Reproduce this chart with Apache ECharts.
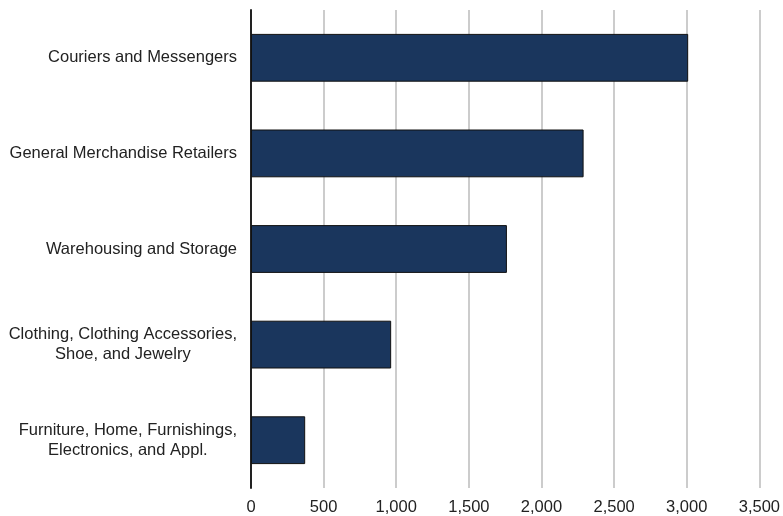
<!DOCTYPE html>
<html>
<head>
<meta charset="utf-8">
<script src="https://cdn.jsdelivr.net/npm/echarts@6/dist/echarts.min.js"></script>
<style>html,body{margin:0;padding:0;background:#fff;}#c{width:783px;height:516px;}</style>
</head>
<body>
<div id="c"></div>
<script>
const categories = [
  "Couriers and Messengers",
  "General Merchandise Retailers",
  "Warehousing and Storage",
  "Clothing, Clothing Accessories,\nShoe, and Jewelry",
  "Furniture, Home, Furnishings,\nElectronics, and Appl."
];
const values = [3010, 2290, 1762, 965, 373];
const xTicks = [0, 500, 1000, 1500, 2000, 2500, 3000, 3500];

const FONT = "'Liberation Sans', Arial, sans-serif";
const chart = echarts.init(document.getElementById('c'), null, {renderer: 'canvas'});
chart.setOption({
  animation: false,
  backgroundColor: '#ffffff',
  grid: {left: 251, right: 20, top: 10, bottom: 28, containLabel: false},
  xAxis: {
    type: 'value',
    min: xTicks[0],
    max: xTicks[xTicks.length - 1],
    interval: 500,
    axisLine: {show: false},
    axisTick: {show: false},
    splitLine: {show: true, lineStyle: {color: '#cccccc', width: 2}},
    axisLabel: {
      color: '#222', fontSize: 16.5, fontFamily: FONT, margin: 11,
      formatter: v => v.toLocaleString('en-US')
    }
  },
  yAxis: {
    type: 'category',
    data: categories,
    inverse: true,
    axisLine: {show: true, lineStyle: {color: '#222', width: 2}},
    axisTick: {show: false},
    splitLine: {show: false},
    axisLabel: {
      margin: 14,
      formatter: v => v.split('\n').map(s => '{a|' + s + '}').join('\n'),
      rich: {a: {align: 'center', color: '#222', fontSize: 16.5, lineHeight: 20, fontFamily: FONT}}
    }
  },
  series: [{
    type: 'bar',
    data: values,
    barWidth: '50%',
    itemStyle: {color: '#1a365d', borderColor: '#111', borderWidth: 1}
  }]
});
</script>
</body>
</html>
